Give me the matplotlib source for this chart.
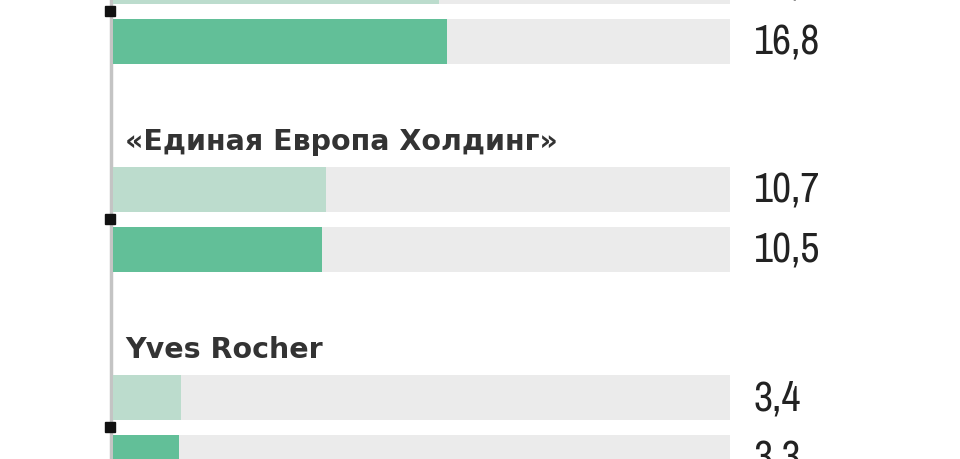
import numpy as np
import matplotlib
matplotlib.use("Agg")
import matplotlib.pyplot as plt

# data (first company name is cut off above the crop)
companies = ["", "«Единая Европа Холдинг»", "Yves Rocher"]
prev_values = [16.4, 10.7, 3.4]
curr_values = [16.8, 10.5, 3.3]
scale_max = 31.0

light_color = "#bcdccd"
dark_color = "#62bf98"
track_color = "#ebebeb"

# layout in pixel-ish units, converted to data units
pitch = 208.0
px_per_unit = 19.9
bar_h = 45 / pitch
off = 30 / pitch

fig = plt.figure(figsize=(9.6, 4.6), dpi=100)
ax = fig.add_axes([0, 0, 1, 1])
ax.set_xlim(-113 / px_per_unit, (960 - 113) / px_per_unit)
ax.set_ylim((460 - 12) / pitch, -12 / pitch)
ax.axis("off")

groups = np.arange(len(companies))
for g, name, pv, cv in zip(groups, companies, prev_values, curr_values):
    for yc, v, col in [(g - off, pv, light_color), (g + off, cv, dark_color)]:
        ax.barh(yc, scale_max, height=bar_h, color=track_color, left=0, zorder=1)
        ax.barh(yc, v, height=bar_h, color=col, left=0, zorder=2)
        ax.text(scale_max + 1.2, yc, f"{v:.1f}".replace(".", ","),
                va="center", ha="left", fontsize=30, color="#222222",
                family=["Archivo Narrow", "DejaVu Sans"])
    ax.text(0.6, g - 70 / pitch, name, va="baseline", ha="left",
            fontsize=20.5, fontweight="bold", color="#333333",
            family="DejaVu Sans")

ax.axvline(-0.12, color="#c4c4c4", lw=2.5, zorder=0)
ax.plot(np.full(len(groups), -0.15), groups, "s", color="#111111",
        markersize=7, zorder=3)

fig.savefig("out.png", dpi=100)
